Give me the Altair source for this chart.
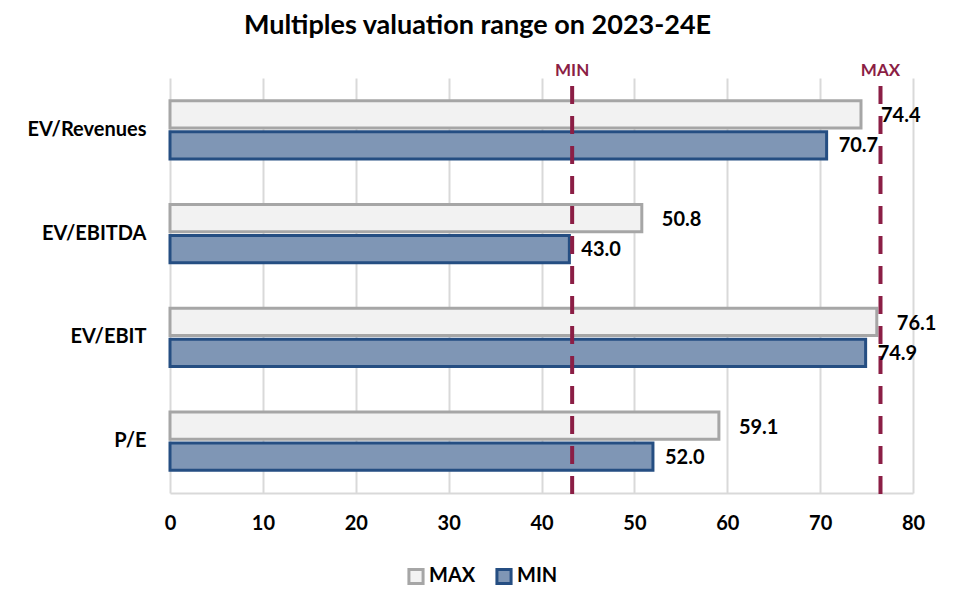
import altair as alt
import pandas as pd

categories = ["EV/Revenues", "EV/EBITDA", "EV/EBIT", "P/E"]
max_vals = [74.4, 50.8, 76.1, 59.1]
min_vals = [70.7, 43.0, 74.9, 52.0]
series = ["MAX", "MIN"]
ref_labels = ["MIN", "MAX"]
ref_values = [43.3, 76.5]

rows = []
for c, mx, mn in zip(categories, max_vals, min_vals):
    rows.append({"category": c, "series": "MAX", "value": mx})
    rows.append({"category": c, "series": "MIN", "value": mn})
df = pd.DataFrame(rows)
ref = pd.DataFrame({"label": ref_labels, "value": ref_values})

FONT = "Lato"
MAROON = "#8b1e45"

x_scale = alt.Scale(domain=[0, 80])
y_enc = alt.Y("category:N", sort=categories, title=None,
              scale=alt.Scale(paddingInner=0.44, paddingOuter=0.22))
yoff = alt.YOffset("series:N", sort=series,
                   scale=alt.Scale(paddingInner=0.12, paddingOuter=0))

base = alt.Chart(df)

bars = base.mark_bar(strokeWidth=3).encode(
    x=alt.X("value:Q", scale=x_scale, title=None,
            axis=alt.Axis(values=list(range(0, 81, 10)), grid=True,
                          gridColor="#d9d9d9", gridWidth=2,
                          domain=True, domainColor="#d9d9d9", domainWidth=2,
                          ticks=False, labelPadding=20, labelFlush=False)),
    y=y_enc,
    yOffset=yoff,
    fill=alt.Color("series:N", sort=series,
                   scale=alt.Scale(domain=series, range=["#f2f2f2", "#7f96b5"]),
                   legend=alt.Legend(title=None, orient="none", direction="horizontal",
                                     legendX=236, legendY=488,
                                     symbolType="square", symbolSize=200,
                                     symbolStrokeWidth=3,
                                     labelFont=FONT, labelFontSize=20,
                                     labelFontWeight="bold", labelColor="#000000",
                                     columnPadding=14, labelOffset=3)),
    stroke=alt.Stroke("series:N", sort=series,
                      scale=alt.Scale(domain=series, range=["#a6a6a6", "#254e82"]),
                      legend=None),
)

lbl_max = base.transform_filter(alt.datum.series == "MAX").mark_text(
    align="left", baseline="middle", dx=20, dy=2, font=FONT, fontSize=20,
    fontWeight="bold", color="#000000"
).encode(x="value:Q", y=y_enc, yOffset=yoff, text=alt.Text("value:Q", format=".1f"))

lbl_min = base.transform_filter(alt.datum.series == "MIN").mark_text(
    align="left", baseline="middle", dx=12, dy=1, font=FONT, fontSize=20,
    fontWeight="bold", color="#000000"
).encode(x="value:Q", y=y_enc, yOffset=yoff, text=alt.Text("value:Q", format=".1f"))

rules = alt.Chart(ref).mark_rule(color=MAROON, strokeWidth=4,
                                 strokeDash=[18, 12]).encode(
    x=alt.X("value:Q", scale=x_scale),
    y=alt.value(8), y2=alt.value(418),
)

ref_text = alt.Chart(ref).mark_text(
    font=FONT, fontSize=17, fontWeight="bold", color=MAROON,
    baseline="bottom", align="center"
).encode(
    x=alt.X("value:Q", scale=x_scale),
    y=alt.value(2),
    text="label:N",
)

chart = alt.layer(bars, rules, lbl_max, lbl_min, ref_text).properties(
    width=743, height=415,
    title=alt.TitleParams("Multiples valuation range on 2023-24E", font=FONT,
                          fontSize=27, fontWeight="bold", color="#000000",
                          anchor="middle", dx=-64, offset=22),
    autosize=alt.AutoSizeParams(type="none"),
    padding={"left": 162, "top": 70, "right": 30, "bottom": 110},
).configure_axis(
    labelFont=FONT, labelFontSize=20, labelFontWeight="bold", labelColor="#000000",
).configure_axisY(
    domain=False, ticks=False, grid=False, labelPadding=24,
).configure_view(stroke=None)

chart.save("out.html", embed_options={"renderer": "svg", "actions": False})
